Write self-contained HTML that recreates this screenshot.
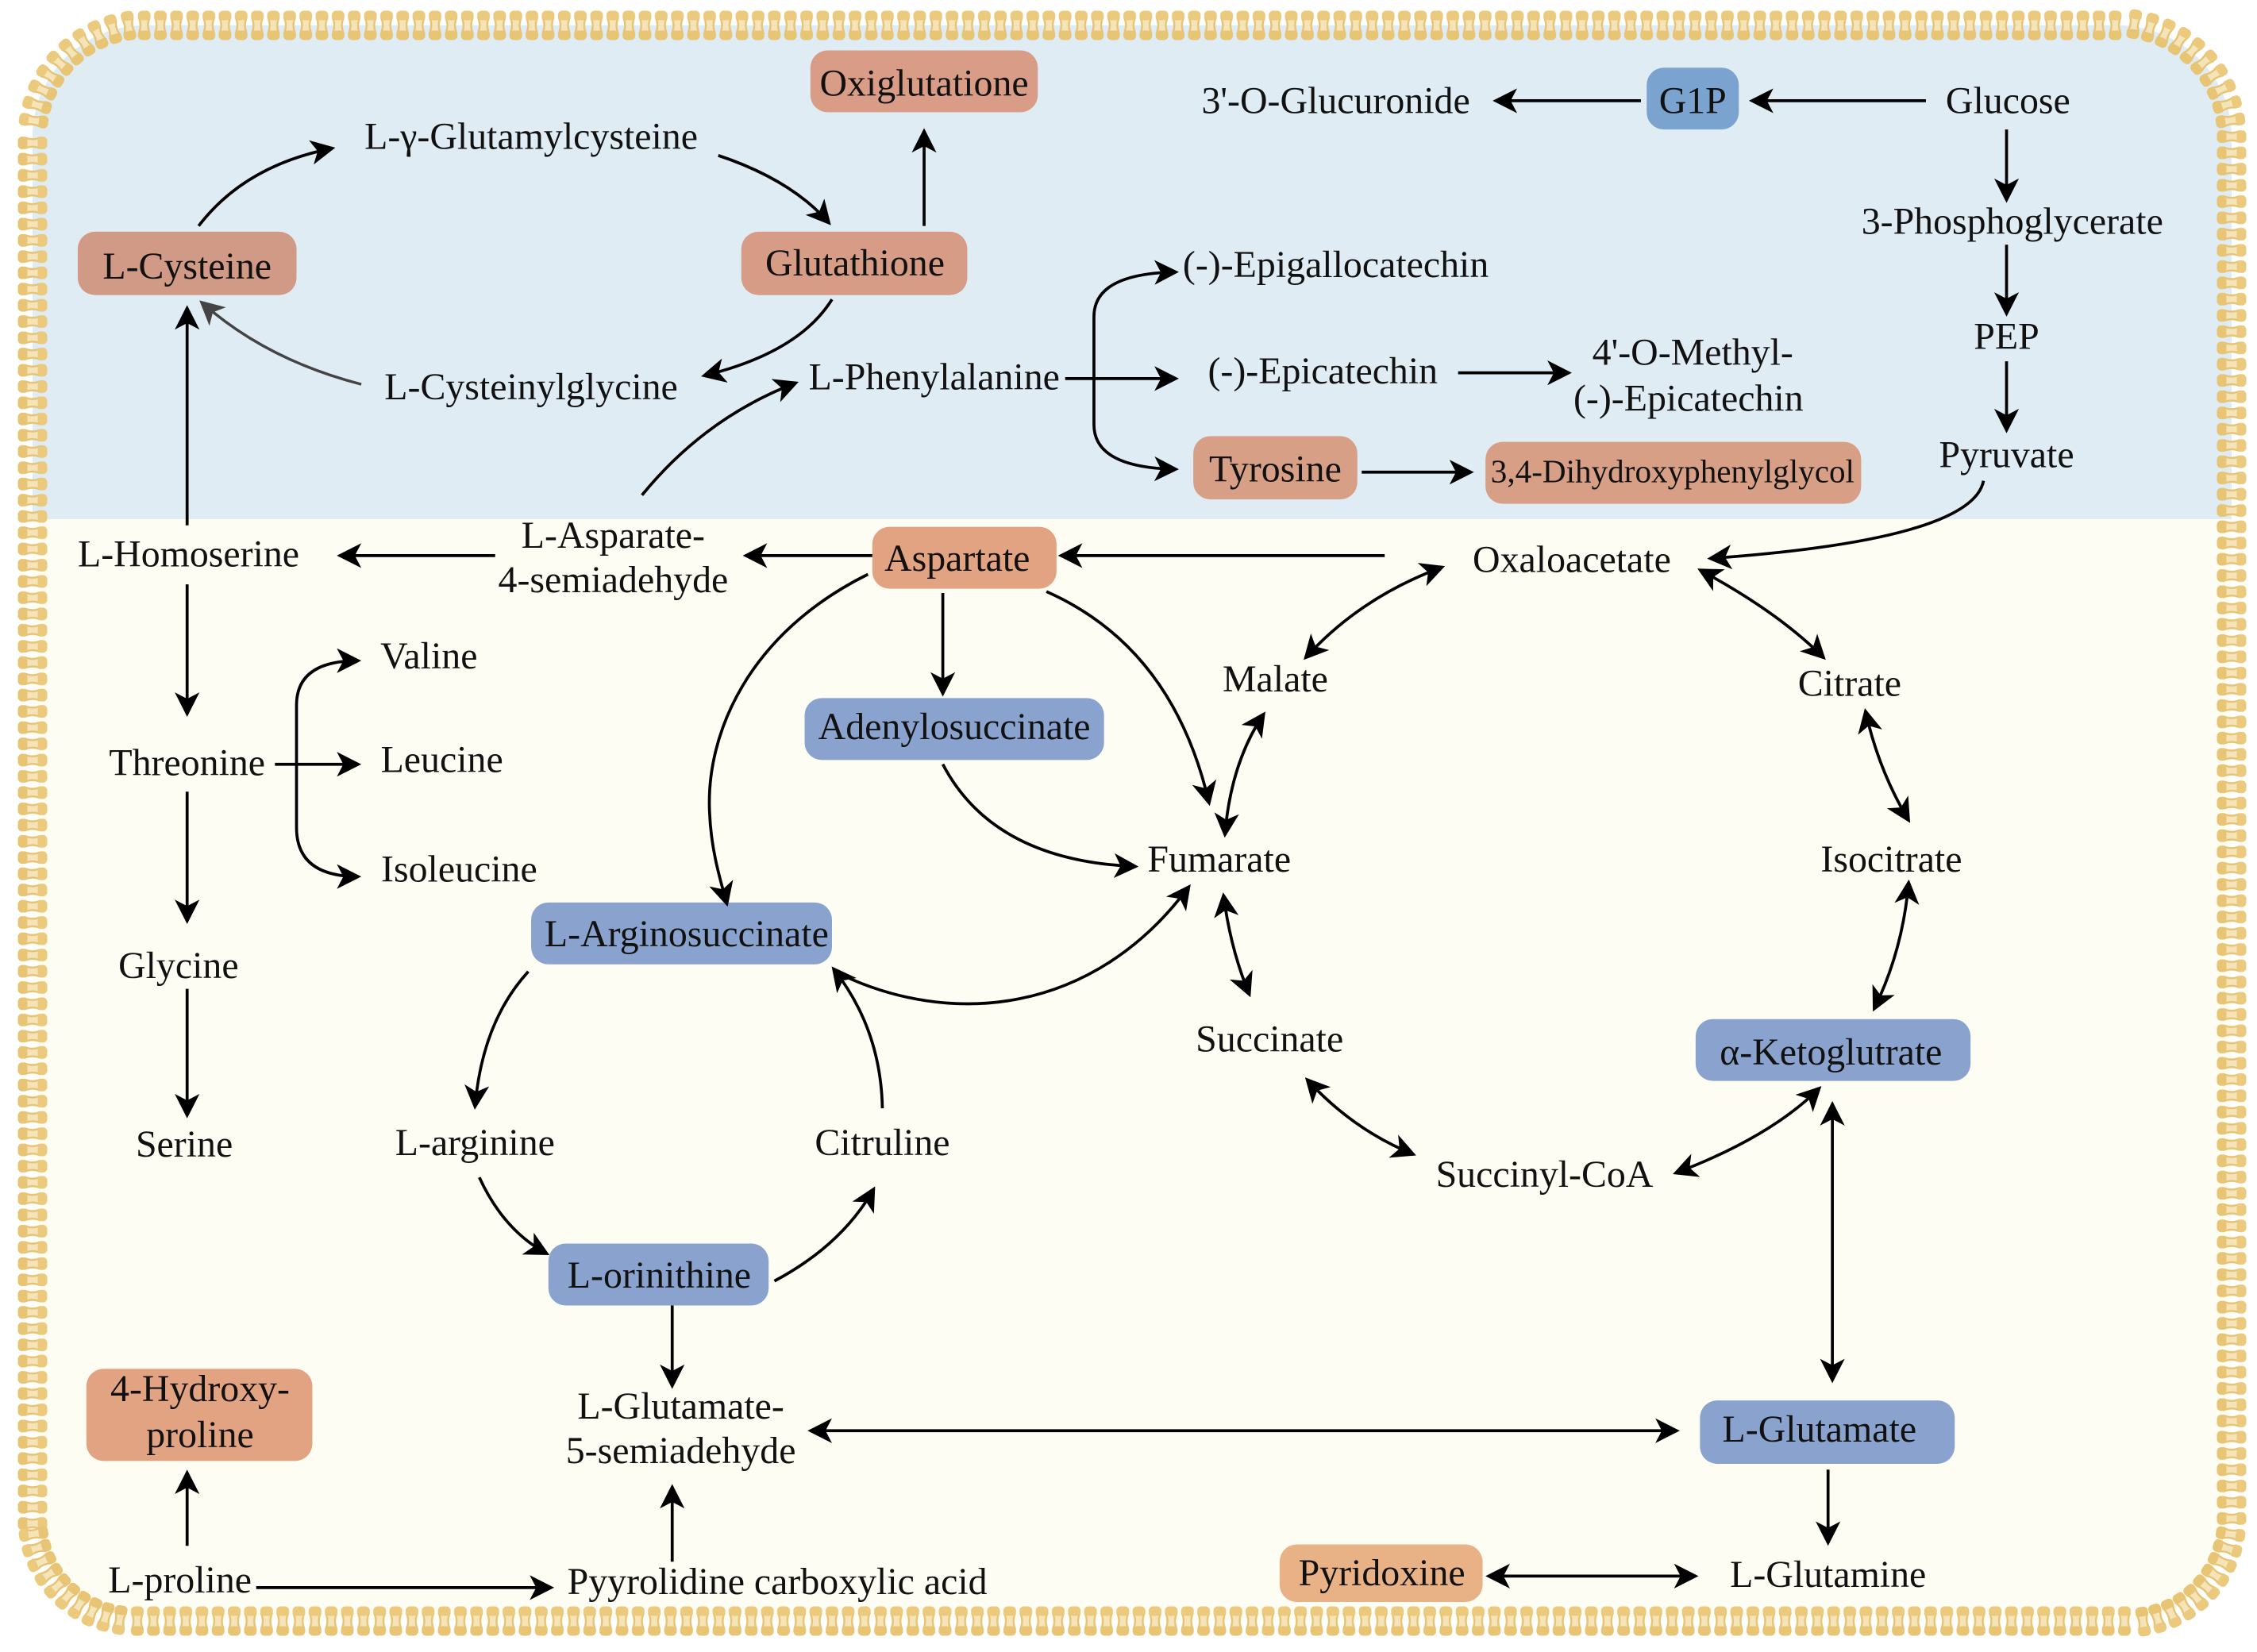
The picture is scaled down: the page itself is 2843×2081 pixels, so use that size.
<!DOCTYPE html>
<html><head><meta charset="utf-8"><style>
html,body{margin:0;padding:0;background:#fff}
svg{display:block}
text{font-family:"Liberation Serif",serif;font-size:26.4px;fill:#111;text-anchor:middle}
.a path{fill:none;stroke:#000;stroke-width:2.05}
</style></head><body>
<svg xmlns="http://www.w3.org/2000/svg" width="2843" height="2081" viewBox="0 0 2843 2081">
<defs>
<g id="bead">
<path d="M-6.5,-9 Q-3,0 -6.5,9 L6.5,9 Q3,0 6.5,-9Z" fill="#f5e4b8" stroke="#e6c375" stroke-width="2.4"/>
<rect x="-8" y="-18.5" width="16" height="12" rx="5.5" fill="#ebca7e"/>
<rect x="-8" y="6.5" width="16" height="12" rx="5.5" fill="#e8c475"/>
</g>
<pattern id="pt" patternUnits="userSpaceOnUse" width="20.35" height="37" patternTransform="translate(171.5,13.5)"><use href="#bead" transform="translate(10.175,18.5)"/></pattern>
<pattern id="pb" patternUnits="userSpaceOnUse" width="20.35" height="37" patternTransform="translate(162.8,2023.5)"><use href="#bead" transform="translate(10.175,18.5)"/></pattern>
<pattern id="pl" patternUnits="userSpaceOnUse" width="37" height="20.46" patternTransform="translate(22.5,169.8)"><use href="#bead" transform="translate(18.5,10.23) rotate(90)"/></pattern>
<pattern id="pr" patternUnits="userSpaceOnUse" width="37" height="20.48" patternTransform="translate(2792.5,161.8)"><use href="#bead" transform="translate(18.5,10.24) rotate(90)"/></pattern>
<marker id="m" markerUnits="userSpaceOnUse" markerWidth="20" markerHeight="20" viewBox="0 -10 20 20" refX="15" refY="0" orient="auto-start-reverse"><path d="M17,0 L0,-8.6 L4.5,0 L0,8.6Z" fill="#000"/></marker>
<marker id="g" markerUnits="userSpaceOnUse" markerWidth="20" markerHeight="20" viewBox="0 -10 20 20" refX="15" refY="0" orient="auto-start-reverse"><path d="M17,0 L0,-8.6 L4.5,0 L0,8.6Z" fill="#444"/></marker>
</defs>

<path d="M182,32 L2668,32 A143,140 0 0 1 2811,172 L2811,1914 A130,128 0 0 1 2681,2042 L169,2042 A128,128 0 0 1 41,1914 L41,172 A141,140 0 0 1 182,32Z" fill="#fdfdf3"/>
<path d="M182,32 L2668,32 A143,140 0 0 1 2811,172 L2811,654 L41,654 L41,172 A141,140 0 0 1 182,32Z" fill="#dfecf4"/>

<rect x="171.5" y="13.5" width="2503.05" height="37" fill="url(#pt)"/>
<rect x="162.8" y="2023.5" width="2523.4" height="37" fill="url(#pb)"/>
<rect x="22.5" y="169.8" width="37" height="1759.56" fill="url(#pl)"/>
<rect x="2792.5" y="161.8" width="37" height="1761.28" fill="url(#pr)"/>

<g transform="translate(182,172)">
<use href="#bead" transform="rotate(-8.18) translate(0,-141)"/><use href="#bead" transform="rotate(-16.36) translate(0,-141)"/><use href="#bead" transform="rotate(-24.55) translate(0,-141)"/><use href="#bead" transform="rotate(-32.73) translate(0,-141)"/><use href="#bead" transform="rotate(-40.91) translate(0,-141)"/><use href="#bead" transform="rotate(-49.09) translate(0,-141)"/><use href="#bead" transform="rotate(-57.27) translate(0,-141)"/><use href="#bead" transform="rotate(-65.45) translate(0,-141)"/><use href="#bead" transform="rotate(-73.64) translate(0,-141)"/><use href="#bead" transform="rotate(-81.82) translate(0,-141)"/>
</g>
<g transform="translate(2668,172)">
<use href="#bead" transform="rotate(8.18) translate(0,-143)"/><use href="#bead" transform="rotate(16.36) translate(0,-143)"/><use href="#bead" transform="rotate(24.55) translate(0,-143)"/><use href="#bead" transform="rotate(32.73) translate(0,-143)"/><use href="#bead" transform="rotate(40.91) translate(0,-143)"/><use href="#bead" transform="rotate(49.09) translate(0,-143)"/><use href="#bead" transform="rotate(57.27) translate(0,-143)"/><use href="#bead" transform="rotate(65.45) translate(0,-143)"/><use href="#bead" transform="rotate(73.64) translate(0,-143)"/><use href="#bead" transform="rotate(81.82) translate(0,-143)"/>
</g>
<g transform="translate(169,1914)">
<use href="#bead" transform="rotate(188.18) translate(0,-128)"/><use href="#bead" transform="rotate(196.36) translate(0,-128)"/><use href="#bead" transform="rotate(204.55) translate(0,-128)"/><use href="#bead" transform="rotate(212.73) translate(0,-128)"/><use href="#bead" transform="rotate(220.91) translate(0,-128)"/><use href="#bead" transform="rotate(229.09) translate(0,-128)"/><use href="#bead" transform="rotate(237.27) translate(0,-128)"/><use href="#bead" transform="rotate(245.45) translate(0,-128)"/><use href="#bead" transform="rotate(253.64) translate(0,-128)"/><use href="#bead" transform="rotate(261.82) translate(0,-128)"/>
</g>
<g transform="translate(2681,1914)">
<use href="#bead" transform="rotate(171.82) translate(0,-130)"/><use href="#bead" transform="rotate(163.64) translate(0,-130)"/><use href="#bead" transform="rotate(155.45) translate(0,-130)"/><use href="#bead" transform="rotate(147.27) translate(0,-130)"/><use href="#bead" transform="rotate(139.09) translate(0,-130)"/><use href="#bead" transform="rotate(130.91) translate(0,-130)"/><use href="#bead" transform="rotate(122.73) translate(0,-130)"/><use href="#bead" transform="rotate(114.55) translate(0,-130)"/><use href="#bead" transform="rotate(106.36) translate(0,-130)"/><use href="#bead" transform="rotate(98.18) translate(0,-130)"/>
</g>

<g transform="scale(1.81314)">
<!-- boxes -->
<rect x="54" y="161" width="152" height="44" rx="12" fill="#d09a86"/>
<rect x="563" y="35" width="158" height="43" rx="12" fill="#d99c86"/>
<rect x="515" y="161" width="157" height="44" rx="12" fill="#d69c86"/>
<rect x="1144" y="47" width="64" height="43" rx="12" fill="#7ba3cf"/>
<rect x="829" y="303" width="114" height="44" rx="12" fill="#d89f87"/>
<rect x="1032" y="307" width="261" height="43" rx="12" fill="#d89f87"/>
<rect x="606" y="366" width="128" height="43" rx="12" fill="#e2a383"/>
<rect x="559" y="485" width="208" height="43" rx="12" fill="#8aa3ce"/>
<rect x="369" y="627" width="209" height="43" rx="12" fill="#8aa3ce"/>
<rect x="1178" y="708" width="191" height="43" rx="12" fill="#8aa3ce"/>
<rect x="381" y="864" width="153" height="43" rx="12" fill="#8aa3ce"/>
<rect x="1181" y="973" width="177" height="44" rx="12" fill="#8aa3ce"/>
<rect x="60" y="951" width="157" height="64" rx="12" fill="#e2a383"/>
<rect x="889" y="1073" width="141" height="40" rx="12" fill="#e9b186"/>

<!-- single arrows -->
<g class="a" marker-end="url(#m)">
<path d="M138,157 Q170,115 231,103"/>
<path d="M499,108 Q550,125 576,155"/>
<path d="M642,157 L642,91"/>
<path d="M578,208 Q555,245 489,261"/>
<path d="M130,365 L130,214"/>
<path d="M446,344 Q490,290 553,266"/>
<path d="M740,263 L817,263"/>
<path d="M760,263 L760,220 Q760,190 817,189"/>
<path d="M760,263 L760,295 Q760,325 817,326"/>
<path d="M1013,259 L1090,259"/>
<path d="M946,328 L1022,328"/>
<path d="M1338,70 L1217,70"/>
<path d="M1140,70 L1039,70"/>
<path d="M1394,90 L1394,139"/>
<path d="M1394,170 L1394,218"/>
<path d="M1394,251 L1394,299"/>
<path d="M1378,334 Q1370,375 1188,388"/>
<path d="M962,386 L737,386"/>
<path d="M606,386 L518,386"/>
<path d="M344,386 L236,386"/>
<path d="M130,406 L130,496"/>
<path d="M130,550 L130,640"/>
<path d="M130,687 L130,775"/>
<path d="M191,531 L249,531"/>
<path d="M206,531 L206,490 Q206,459 249,459"/>
<path d="M206,531 L206,575 Q206,609 249,609"/>
<path d="M655,412 L655,482"/>
<path d="M727,411 Q815,450 840,558"/>
<path d="M603,399 C520,440 490,510 493,565 C494,590 500,610 505,628"/>
<path d="M655,531 Q690,598 789,602"/>
<path d="M580,675 C660,715 760,705 826,616"/>
<path d="M613,770 Q612,715 579,673"/>
<path d="M367,675 Q335,710 330,769"/>
<path d="M333,818 Q350,855 380,871"/>
<path d="M538,890 Q585,865 607,826"/>
<path d="M467,907 L467,963"/>
<path d="M467,1085 L467,1033"/>
<path d="M178,1103 L383,1103"/>
<path d="M130,1074 L130,1023"/>
<path d="M1270,1021 L1270,1072"/>
</g>
<path d="M251,267 Q185,250 140,210" fill="none" stroke="#444" stroke-width="1.9" marker-end="url(#g)"/>

<!-- double arrows -->
<g class="a" marker-start="url(#m)" marker-end="url(#m)">
<path d="M563,994 L1165,994"/>
<path d="M1034,1095 L1178,1095"/>
<path d="M1273,767 L1273,959"/>
<path d="M1264,756 Q1230,790 1164,815"/>
<path d="M908,750 Q940,785 982,802"/>
<path d="M850,622 Q855,660 868,691"/>
<path d="M878,496 Q855,530 851,580"/>
<path d="M907,457 Q945,415 1002,394"/>
<path d="M1181,396 Q1235,425 1267,457"/>
<path d="M1296,494 Q1305,535 1326,570"/>
<path d="M1326,613 Q1322,660 1302,701"/>
</g>

<!-- labels -->
<g transform="translate(0,0.5)">
<text x="130" y="193">L-Cysteine</text>
<text x="642" y="66">Oxiglutatione</text>
<text x="594" y="191">Glutathione</text>
<text x="1176" y="78">G1P</text>
<text x="928" y="78">3'-O-Glucuronide</text>
<text x="1395" y="78">Glucose</text>
<text x="1398" y="162">3-Phosphoglycerate</text>
<text x="1394" y="242">PEP</text>
<text x="1394" y="324">Pyruvate</text>
<text x="369" y="103">L-γ-Glutamylcysteine</text>
<text x="369" y="277">L-Cysteinylglycine</text>
<text x="649" y="270">L-Phenylalanine</text>
<text x="928" y="192">(-)-Epigallocatechin</text>
<text x="919" y="266">(-)-Epicatechin</text>
<text x="1176" y="253">4'-O-Methyl-</text>
<text x="1173" y="285">(-)-Epicatechin</text>
<text x="886" y="334">Tyrosine</text>
<text x="1162" y="334.5" style="font-size:22.7px">3,4-Dihydroxyphenylglycol</text>
<text x="426" y="380">L-Asparate-</text>
<text x="426" y="411">4-semiadehyde</text>
<text x="131" y="393">L-Homoserine</text>
<text x="665" y="396">Aspartate</text>
<text x="1092" y="397">Oxaloacetate</text>
<text x="886" y="480">Malate</text>
<text x="1285" y="483">Citrate</text>
<text x="298" y="464">Valine</text>
<text x="307" y="536">Leucine</text>
<text x="319" y="612">Isoleucine</text>
<text x="130" y="538">Threonine</text>
<text x="124" y="679">Glycine</text>
<text x="128" y="803">Serine</text>
<text x="663" y="513">Adenylosuccinate</text>
<text x="847" y="605">Fumarate</text>
<text x="1314" y="605">Isocitrate</text>
<text x="477" y="657">L-Arginosuccinate</text>
<text x="882" y="730">Succinate</text>
<text x="1272" y="739">α-Ketoglutrate</text>
<text x="1073" y="824">Succinyl-CoA</text>
<text x="330" y="802">L-arginine</text>
<text x="613" y="802">Citruline</text>
<text x="458" y="894">L-orinithine</text>
<text x="473" y="985">L-Glutamate-</text>
<text x="473" y="1016">5-semiadehyde</text>
<text x="1264" y="1001">L-Glutamate</text>
<text x="139" y="973">4-Hydroxy-</text>
<text x="139" y="1005">proline</text>
<text x="125" y="1106">L-proline</text>
<text x="540" y="1107">Pyyrolidine carboxylic acid</text>
<text x="960" y="1101">Pyridoxine</text>
<text x="1270" y="1102">L-Glutamine</text>
</g>
</g>
</svg>
</body></html>
